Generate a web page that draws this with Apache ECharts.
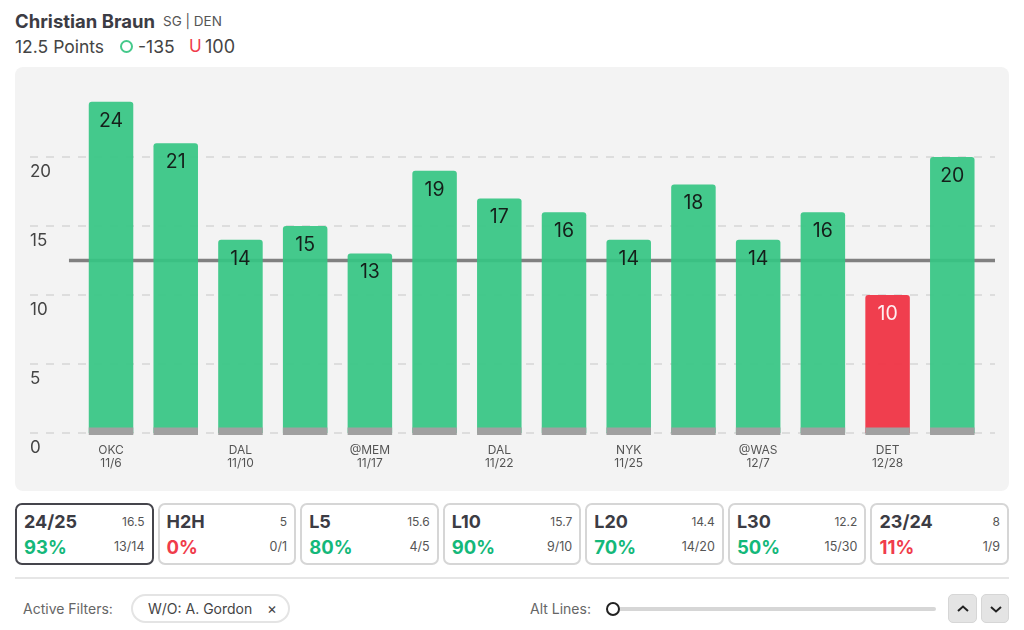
<!DOCTYPE html>
<html>
<head>
<meta charset="utf-8">
<script src="https://cdn.jsdelivr.net/npm/echarts@6/dist/echarts.min.js"></script>
<style>
    html, body { margin: 0; padding: 0; background: #fff; }
    body { width: 1024px; height: 630px; position: relative; overflow: hidden; font-family: Inter, sans-serif; color: #3c3c44; }
    .abs { position: absolute; white-space: nowrap; line-height: 1; }
    #chart { position: absolute; left: 15px; top: 67px; width: 994px; height: 424px; background: #f3f3f3; border-radius: 8px; overflow: hidden; }
    #cards { position: absolute; left: 15px; top: 503px; width: 994px; display: flex; justify-content: space-between; }
    .card { width: 138.5px; height: 62px; box-sizing: border-box; border: 2px solid #d6d6d6; border-radius: 7px; position: relative; background: #fff; }
    .card.active { border-color: #45454c; }
    .card div { position: absolute; line-height: 1; white-space: nowrap; }
    .c-name { left: 7px; top: 8px; font-size: 18px; font-weight: 700; }
    .c-avg { right: 7px; top: 11px; font-size: 12px; color: #555; }
    .c-pct { left: 7px; top: 33px; font-size: 18.5px; font-weight: 700; }
    .c-rec { right: 7px; top: 36px; font-size: 12.5px; color: #555; }
    .pill { left: 131px; top: 594px; width: 159px; height: 29px; box-sizing: border-box; border: 2px solid #e4e4e4; border-radius: 15px; }
    .btn { top: 594px; width: 29px; height: 29px; box-sizing: border-box; background: #e4e4e4; border: 1px solid #d6d6d6; border-radius: 5px; }
    .btn svg { display: block; margin: 9px 0 0 7px; }
</style>
</head>
<body>
<div class="abs" style="left:15px;top:12px;font-size:18.5px;font-weight:700">Christian Braun</div>
<div class="abs" style="left:163px;top:15px;font-size:13.5px;color:#555">SG | DEN</div>
<div class="abs" style="left:15px;top:38px;font-size:17.5px;color:#444">12.5 Points</div>
<div class="abs" style="left:120px;top:40px;width:13px;height:13px;box-sizing:border-box;border:2px solid #45c98b;border-radius:50%"></div>
<div class="abs" style="left:138px;top:38px;font-size:17.5px;color:#444">-135</div>
<div class="abs" style="left:189px;top:38px;font-size:17px;color:#f03c4b">U</div>
<div class="abs" style="left:205px;top:38px;font-size:18px;color:#444">100</div>

<div id="chart"></div>
<div id="cards"></div>

<div class="abs" style="left:15px;top:577px;width:994px;height:1.5px;background:#e6e6e6"></div>
<div class="abs" style="left:23px;top:602px;font-size:14px;color:#666">Active Filters:</div>
<div class="abs pill"></div>
<div class="abs" style="left:148px;top:602px;font-size:14px;color:#444">W/O: A. Gordon</div>
<div class="abs" style="left:267px;top:601px;font-size:15px;color:#444">×</div>
<div class="abs" style="left:530px;top:602px;font-size:14px;color:#666">Alt Lines:</div>
<div class="abs" style="left:613px;top:607px;width:323px;height:4px;background:#d6d6d6;border-radius:2px"></div>
<div class="abs" style="left:606px;top:602px;width:14px;height:14px;box-sizing:border-box;background:#fff;border:2px solid #222;border-radius:50%"></div>
<div class="abs btn" style="left:948px"><svg width="14" height="10" viewBox="0 0 14 10"><path d="M2 7 L7 2.5 L12 7" fill="none" stroke="#222" stroke-width="2"/></svg></div>
<div class="abs btn" style="left:981px;width:28px"><svg width="14" height="10" viewBox="0 0 14 10"><path d="M2 3 L7 7.5 L12 3" fill="none" stroke="#222" stroke-width="2"/></svg></div>

<script>
// ===== data =====
var points = [24, 21, 14, 15, 13, 19, 17, 16, 14, 18, 14, 16, 10, 20];
var opponents = ['OKC', '', 'DAL', '', '@MEM', '', 'DAL', '', 'NYK', '', '@WAS', '', 'DET', ''];
var dates = ['11/6', '', '11/10', '', '11/17', '', '11/22', '', '11/25', '', '12/7', '', '12/28', ''];
var propLine = 12.5;
var yTicks = { min: 0, max: 20, step: 5 };

var cardNames = ['24/25', 'H2H', 'L5', 'L10', 'L20', 'L30', '23/24'];
var cardAvgs = ['16.5', '5', '15.6', '15.7', '14.4', '12.2', '8'];
var cardPcts = [93, 0, 80, 90, 70, 50, 11];
var cardRecords = ['13/14', '0/1', '4/5', '9/10', '14/20', '15/30', '1/9'];

var GREEN = '#35c583', RED = '#f02f40', GREY = '#a0a0a0';

// ===== stat cards =====
var html = '';
for (var i = 0; i < cardNames.length; i++) {
    var col = cardPcts[i] >= 50 ? '#14b87a' : '#f03c4b';
    html += '<div class="card' + (i === 0 ? ' active' : '') + '">' +
        '<div class="c-name">' + cardNames[i] + '</div>' +
        '<div class="c-avg">' + cardAvgs[i] + '</div>' +
        '<div class="c-pct" style="color:' + col + '">' + cardPcts[i] + '%</div>' +
        '<div class="c-rec">' + cardRecords[i] + '</div></div>';
}
document.getElementById('cards').innerHTML = html;

// ===== chart =====
var chart = echarts.init(document.getElementById('chart'));
var xIdx = points.map(function (v, i) { return i; });
var labelled = xIdx.filter(function (i) { return opponents[i] !== ''; });

chart.setOption({
    animation: false,
    backgroundColor: 'transparent',
    textStyle: { fontFamily: 'Inter' },
    grid: { left: 15, right: 14, top: 90, bottom: 58 },
    xAxis: {
        type: 'value',
        min: -1.252,
        max: 13.66,
        splitLine: { show: false },
        axisLine: { show: false },
        axisTick: { show: false },
        axisLabel: {
            customValues: labelled,
            margin: 11,
            fontSize: 12,
            lineHeight: 13,
            color: '#555',
            formatter: function (v) { return opponents[v] + '\n' + dates[v]; }
        }
    },
    yAxis: {
        type: 'value',
        min: yTicks.min,
        max: yTicks.max,
        interval: yTicks.step,
        axisLine: { show: false },
        axisTick: { show: false },
        axisLabel: { inside: true, margin: 0, align: 'left', verticalAlign: 'top', padding: [6, 0, 0, 0], fontSize: 17, color: '#444' },
        splitLine: { lineStyle: { color: '#dddddd', width: 2, type: [8, 8] } }
    },
    series: [
        {
            type: 'line',
            z: 1,
            silent: true,
            symbol: 'none',
            lineStyle: { color: '#808080', width: 3.5 },
            data: [[-0.65, propLine], [13.66, propLine]]
        },
        {
            type: 'bar',
            z: 2,
            clip: false,
            barWidth: 44.5,
            barGap: '-100%',
            itemStyle: { borderRadius: [3, 3, 0, 0], opacity: 0.92 },
            label: { show: true, position: 'insideTop', distance: 9, fontSize: 19.5 },
            data: points.map(function (v, i) {
                var over = v > propLine;
                return {
                    value: [i, v],
                    itemStyle: { color: over ? GREEN : RED },
                    label: { color: over ? '#111' : '#fff', formatter: String(v) }
                };
            })
        },
        {
            // grey foot of each bar, straddles the zero line
            type: 'bar',
            z: 3,
            clip: false,
            stack: 'foot',
            barWidth: 44.5,
            itemStyle: { color: GREY },
            data: xIdx.map(function (i) { return [i, 0.4]; })
        },
        {
            type: 'bar',
            z: 3,
            clip: false,
            stack: 'foot',
            barWidth: 44.5,
            itemStyle: { color: GREY },
            data: xIdx.map(function (i) { return [i, -0.15]; })
        }
    ]
});
</script>
</body>
</html>
